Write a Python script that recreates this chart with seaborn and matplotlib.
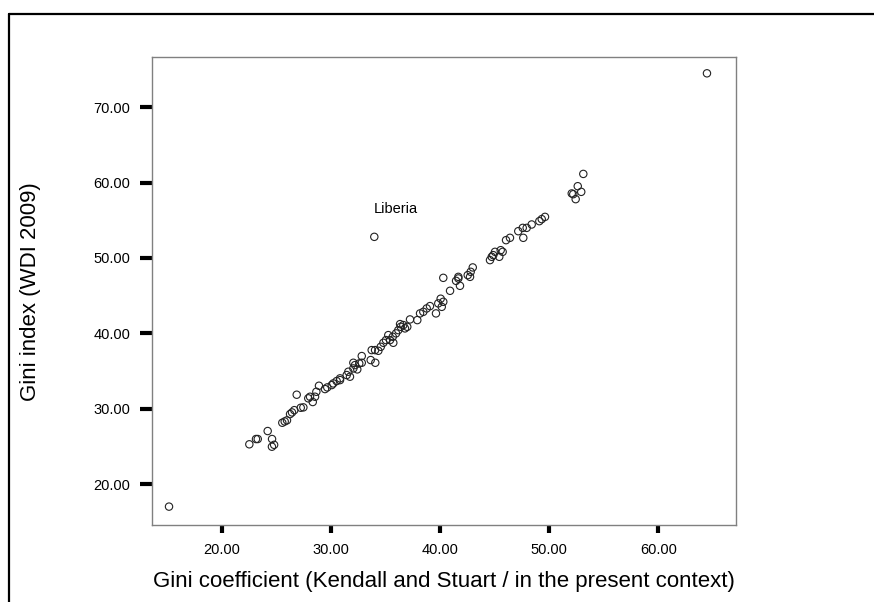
import matplotlib
matplotlib.use("Agg")
import matplotlib.pyplot as plt
from matplotlib.lines import Line2D
from matplotlib.ticker import FormatStrFormatter
import seaborn as sns
import pandas as pd

# ------------------------------
# Data
# ------------------------------
gini_ks = [
    15.17, 22.53, 23.14, 23.30, 24.21, 24.61, 24.60, 24.80, 25.55, 25.77,
    25.98, 26.26, 26.44, 26.65, 26.87, 27.24, 27.48, 27.93, 28.09, 28.34,
    28.55, 28.67, 28.91, 29.46, 29.67, 30.08, 30.22, 30.53, 30.84, 30.84,
    31.45, 31.75, 31.60, 32.06, 32.21, 32.06, 32.42, 32.60, 32.83, 32.83,
    33.65, 34.07, 33.74, 34.05, 34.35, 34.57, 34.81, 35.05, 35.26, 35.42,
    35.67, 35.72, 35.97, 36.18, 36.34, 36.40, 36.64, 36.79, 37.00, 37.25,
    37.92, 38.17, 38.47, 38.78, 39.08, 39.63, 39.84, 40.16, 40.30, 40.06,
    40.30, 40.92, 41.47, 41.68, 41.83, 41.68, 42.54, 42.75, 42.81, 43.00,
    44.58, 44.74, 44.88, 45.04, 45.43, 45.56, 45.74, 46.05, 46.41, 47.17,
    47.58, 47.63, 47.94, 48.40, 49.10, 49.32, 49.62, 52.07, 52.21, 52.43,
    52.62, 52.94, 53.13, 64.46, 33.98,
]
gini_wdi = [
    17.00, 25.27, 25.97, 25.97, 27.03, 25.97, 24.95, 25.20, 28.13, 28.30,
    28.45, 29.28, 29.50, 29.80, 31.85, 30.12, 30.17, 31.37, 31.58, 30.88,
    31.58, 32.24, 33.04, 32.60, 32.82, 33.13, 33.35, 33.66, 33.79, 34.02,
    34.46, 34.24, 34.90, 35.34, 35.78, 36.09, 35.21, 36.00, 36.09, 36.98,
    36.45, 36.09, 37.77, 37.77, 37.68, 38.21, 38.74, 39.10, 39.76, 39.10,
    39.54, 38.74, 39.99, 40.42, 41.22, 40.86, 41.09, 40.65, 40.86, 41.84,
    41.75, 42.64, 42.85, 43.30, 43.61, 42.64, 43.97, 43.51, 44.18, 44.59,
    47.36, 45.64, 46.96, 47.49, 46.30, 47.28, 47.72, 47.49, 48.16, 48.74,
    49.71, 50.15, 50.37, 50.81, 50.15, 51.03, 50.81, 52.36, 52.67, 53.55,
    53.99, 52.67, 53.99, 54.44, 54.88, 55.15, 55.45, 58.56, 58.46, 57.80,
    59.52, 58.77, 61.15, 74.50, 52.80,
]
label_text = "Liberia"
label_xy = (33.9, 56.5)

x_ticks = [20, 30, 40, 50, 60]
y_ticks = [20, 30, 40, 50, 60, 70]

df = pd.DataFrame({"ks": gini_ks, "wdi": gini_wdi})

# ------------------------------
# Plot
# ------------------------------
sns.set_style("white")
plt.rcParams["font.family"] = ["Liberation Sans", "DejaVu Sans"]
plt.rcParams["text.color"] = "black"
plt.rcParams["axes.labelcolor"] = "black"

fig = plt.figure(figsize=(8.74, 6.02), dpi=100)
ax = fig.add_axes([0.1739, 0.1279, 0.6682, 0.7766])

sns.scatterplot(
    data=df, x="ks", y="wdi", ax=ax,
    marker="o", s=28, facecolors="none", edgecolors="#222222", linewidth=0.8,
)

ax.text(label_xy[0], label_xy[1], label_text, fontsize=10.5, va="center",
        ha="left", color="black")

ax.set_xlim(13.61, 67.12)
ax.set_ylim(14.56, 76.6)
ax.set_xticks(x_ticks)
ax.set_yticks(y_ticks)
ax.xaxis.set_major_formatter(FormatStrFormatter("%.2f"))
ax.yaxis.set_major_formatter(FormatStrFormatter("%.2f"))
ax.tick_params(axis="x", direction="out", length=6, width=3, color="black",
               labelcolor="black", labelsize=10.5, pad=7, bottom=True)
ax.tick_params(axis="y", direction="out", length=8.5, width=3, color="black",
               labelcolor="black", labelsize=10.5, pad=7, left=True)

for sp in ax.spines.values():
    sp.set_color("#808080")
    sp.set_linewidth(1.0)

ax.set_xlabel("Gini coefficient (Kendall and Stuart / in the present context)",
              fontsize=16, color="black")
ax.set_ylabel("Gini index (WDI 2009)", fontsize=16, color="black")
ax.xaxis.set_label_coords(0.5, -0.098)
ax.yaxis.set_label_coords(-0.19, 0.5)

# outer chart frame (only top and left edges fall inside the image)
fig.add_artist(Line2D([0.0103, 1.0], [0.9767, 0.9767], color="black", lw=1.6,
                      transform=fig.transFigure))
fig.add_artist(Line2D([0.0103, 0.0103], [0.0, 0.9767], color="black", lw=1.6,
                      transform=fig.transFigure))

fig.savefig("out.png", dpi=100)
